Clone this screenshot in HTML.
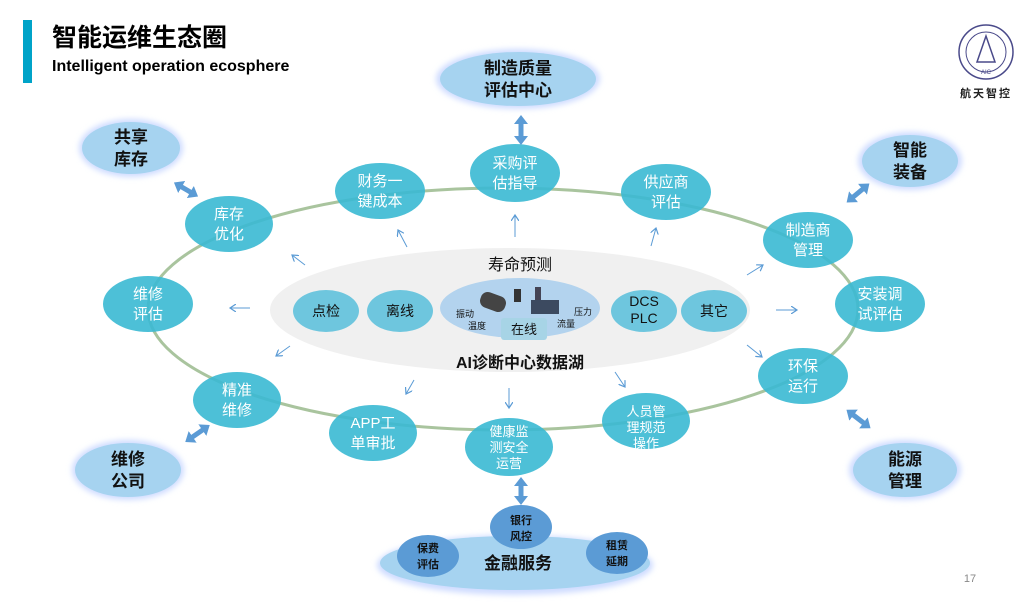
<!DOCTYPE html>
<html><head><meta charset="utf-8"><style>
body{margin:0;width:1025px;height:603px;background:#fff;overflow:hidden;font-family:"Liberation Sans","Noto Sans CJK SC",sans-serif}
</style></head><body>
<svg width="1025" height="603" viewBox="0 0 1025 603" xmlns="http://www.w3.org/2000/svg" font-family="Liberation Sans, Noto Sans CJK SC, sans-serif">
<defs>
<filter id="gl" x="-30%" y="-30%" width="160%" height="160%"><feGaussianBlur stdDeviation="3"/></filter>
<marker id="ah" markerWidth="8" markerHeight="8" refX="6" refY="4" orient="auto" markerUnits="userSpaceOnUse"><path d="M0,0 L6,4 L0,8" fill="none" stroke="#5b9bd5" stroke-width="1.2"/></marker>
<marker id="bh" markerWidth="12" markerHeight="14" refX="2" refY="7" orient="auto-start-reverse" markerUnits="userSpaceOnUse"><path d="M0,0 L9,7 L0,14 Z" fill="#5b9bd5"/></marker>
</defs>
<rect x="23" y="20" width="9" height="63" fill="#00a3c8"/>
<text x="52" y="46" font-size="25" font-weight="bold" fill="#000">智能运维生态圈</text>
<text x="52" y="71" font-size="16" font-weight="bold" fill="#000">Intelligent operation ecosphere</text>
<circle cx="986" cy="52" r="27" fill="none" stroke="#4a4a8a" stroke-width="1.5"/>
<circle cx="986" cy="52" r="20" fill="none" stroke="#4a4a8a" stroke-width="1"/>
<path d="M986,36 L977,62 L995,62 Z" fill="none" stroke="#4a4a8a" stroke-width="1.5"/>
<text x="986" y="74" font-size="6" fill="#4a4a8a" text-anchor="middle">AIC</text>
<text x="986" y="97" font-size="11" font-weight="bold" fill="#222" text-anchor="middle" letter-spacing="2">航天智控</text>
<ellipse cx="503" cy="309" rx="355" ry="121" fill="none" stroke="#a9c49e" stroke-width="3"/>
<ellipse cx="510" cy="310" rx="240" ry="62" fill="#f0f0f0"/>
<text x="520" y="270" font-size="16" text-anchor="middle" fill="#111">寿命预测</text>
<text x="520" y="368" font-size="16" font-weight="bold" text-anchor="middle" fill="#111">AI诊断中心数据湖</text>
<g font-size="14" fill="#111" text-anchor="middle">
<ellipse cx="326" cy="311" rx="33" ry="21" fill="#6ec6de"/><text x="326" y="316">点检</text>
<ellipse cx="400" cy="311" rx="33" ry="21" fill="#6ec6de"/><text x="400" y="316">离线</text>
<ellipse cx="644" cy="311" rx="33" ry="21" fill="#6ec6de"/><text x="644" y="306">DCS</text><text x="644" y="323">PLC</text>
<ellipse cx="714" cy="311" rx="33" ry="21" fill="#6ec6de"/><text x="714" y="316">其它</text>
</g>
<ellipse cx="520" cy="308" rx="80" ry="30" fill="#b3d3ee"/>
<rect x="501" y="318" width="46" height="22" rx="3" fill="#a7d4e6"/>
<text x="524" y="334" font-size="13" text-anchor="middle" fill="#111">在线</text>
<rect x="480" y="294" width="26" height="16" rx="7" fill="#444" transform="rotate(20 493 302)"/>
<rect x="514" y="289" width="7" height="13" fill="#333"/>
<rect x="535" y="287" width="6" height="18" fill="#445"/>
<rect x="531" y="300" width="28" height="14" fill="#3c4a60"/>
<g font-size="9" fill="#111"><text x="456" y="317">振动</text><text x="468" y="329">温度</text><text x="574" y="315">压力</text><text x="557" y="327">流量</text></g>
<g stroke="#5b9bd5" stroke-width="1" marker-end="url(#ah)">
<line x1="407" y1="247" x2="398" y2="230"/><line x1="515" y1="237" x2="515" y2="215"/><line x1="651" y1="246" x2="656" y2="228"/>
<line x1="305" y1="265" x2="292" y2="255"/><line x1="250" y1="308" x2="230" y2="308"/><line x1="290" y1="346" x2="276" y2="356"/>
<line x1="414" y1="380" x2="406" y2="394"/><line x1="509" y1="388" x2="509" y2="408"/><line x1="615" y1="372" x2="625" y2="387"/>
<line x1="747" y1="275" x2="763" y2="265"/><line x1="776" y1="310" x2="797" y2="310"/><line x1="747" y1="345" x2="762" y2="357"/>
</g>
<g fill="#3ab9d3" fill-opacity="0.9">
<ellipse cx="515" cy="173" rx="45" ry="29"/><ellipse cx="380" cy="191" rx="45" ry="28"/><ellipse cx="666" cy="192" rx="45" ry="28"/>
<ellipse cx="229" cy="224" rx="44" ry="28"/><ellipse cx="808" cy="240" rx="45" ry="28"/><ellipse cx="148" cy="304" rx="45" ry="28"/>
<ellipse cx="880" cy="304" rx="45" ry="28"/><ellipse cx="237" cy="400" rx="44" ry="28"/><ellipse cx="803" cy="376" rx="45" ry="28"/>
<ellipse cx="373" cy="433" rx="44" ry="28"/><ellipse cx="509" cy="447" rx="44" ry="29"/><ellipse cx="646" cy="421" rx="44" ry="28"/>
</g>
<g fill="#fff" font-size="15" text-anchor="middle">
<text x="515" y="168">采购评</text><text x="515" y="188">估指导</text>
<text x="380" y="186">财务一</text><text x="380" y="206">键成本</text>
<text x="666" y="187">供应商</text><text x="666" y="207">评估</text>
<text x="229" y="219">库存</text><text x="229" y="239">优化</text>
<text x="808" y="235">制造商</text><text x="808" y="255">管理</text>
<text x="148" y="299">维修</text><text x="148" y="319">评估</text>
<text x="880" y="299">安装调</text><text x="880" y="319">试评估</text>
<text x="237" y="395">精准</text><text x="237" y="415">维修</text>
<text x="803" y="371">环保</text><text x="803" y="391">运行</text>
<text x="373" y="428">APP工</text><text x="373" y="448">单审批</text>
<text x="646" y="416" font-size="13">人员管</text><text x="646" y="432" font-size="13">理规范</text><text x="646" y="448" font-size="13">操作</text>
<text x="509" y="436" font-size="13">健康监</text><text x="509" y="452" font-size="13">测安全</text><text x="509" y="468" font-size="13">运营</text>
</g>
<g fill="#cfdcff" filter="url(#gl)">
<ellipse cx="518" cy="79" rx="82" ry="30"/><ellipse cx="131" cy="148" rx="52" ry="29"/><ellipse cx="910" cy="161" rx="52" ry="29"/>
<ellipse cx="128" cy="470" rx="56" ry="30"/><ellipse cx="905" cy="470" rx="56" ry="30"/>
<ellipse cx="515" cy="565" rx="138" ry="30"/>
</g>
<g fill="#a6d3f0">
<ellipse cx="518" cy="79" rx="78" ry="27"/><ellipse cx="131" cy="148" rx="49" ry="26"/><ellipse cx="910" cy="161" rx="48" ry="26"/>
<ellipse cx="128" cy="470" rx="53" ry="27"/><ellipse cx="905" cy="470" rx="52" ry="27"/>
<ellipse cx="515" cy="563" rx="135" ry="27"/>
</g>
<g font-size="17" font-weight="bold" fill="#111" text-anchor="middle">
<text x="518" y="74">制造质量</text><text x="518" y="96">评估中心</text>
<text x="131" y="143">共享</text><text x="131" y="165">库存</text>
<text x="910" y="156">智能</text><text x="910" y="178">装备</text>
<text x="128" y="465">维修</text><text x="128" y="487">公司</text>
<text x="905" y="465">能源</text><text x="905" y="487">管理</text>
</g>
<g fill="#5b9bd5">
<ellipse cx="428" cy="556" rx="31" ry="21"/><ellipse cx="521" cy="527" rx="31" ry="22"/><ellipse cx="617" cy="553" rx="31" ry="21"/>
</g>
<g font-size="11" fill="#111" text-anchor="middle" font-weight="bold">
<text x="428" y="552">保费</text><text x="428" y="568">评估</text>
<text x="521" y="524">银行</text><text x="521" y="540">风控</text>
<text x="617" y="549">租赁</text><text x="617" y="565">延期</text>
</g>
<text x="518" y="569" font-size="17" font-weight="bold" text-anchor="middle" fill="#111">金融服务</text>
<g stroke="#5b9bd5" stroke-width="5" marker-end="url(#bh)" marker-start="url(#bh)">
<line x1="521" y1="122" x2="521" y2="138"/><line x1="521" y1="484" x2="521" y2="498"/>
<line x1="180" y1="186" x2="192" y2="193"/><line x1="852" y1="198" x2="864" y2="188"/>
<line x1="191" y1="438" x2="204" y2="429"/><line x1="852" y1="414" x2="865" y2="424"/>
</g>
<text x="970" y="582" font-size="11" fill="#888" text-anchor="middle">17</text>
</svg>
</body></html>
